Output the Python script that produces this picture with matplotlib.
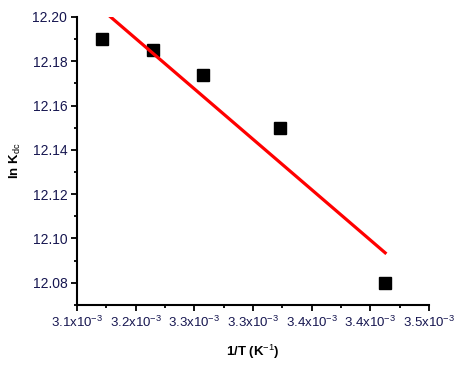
import numpy as np
import matplotlib
matplotlib.use("Agg")
import matplotlib.pyplot as plt
from matplotlib.ticker import FuncFormatter, FixedLocator

plt.rcParams['font.family'] = ['Liberation Sans', 'DejaVu Sans']
plt.rcParams['mathtext.fontset'] = 'custom'
plt.rcParams['mathtext.rm'] = 'Liberation Sans'
plt.rcParams['mathtext.bf'] = 'Liberation Sans:bold'

# data
invT = np.array([3.1652, 3.2182, 3.2688, 3.3470, 3.4550]) * 1e-3
lnK = np.array([12.190, 12.185, 12.174, 12.150, 12.080])

xticks = [3.14e-3, 3.20e-3, 3.26e-3, 3.32e-3, 3.38e-3, 3.44e-3, 3.50e-3]
yticks = [12.08, 12.10, 12.12, 12.14, 12.16, 12.18, 12.20]

tickcol = '#161650'

fig = plt.figure(figsize=(4.61, 3.67), dpi=100)
ax = fig.add_axes([0.167, 0.169, 0.764, 0.785])

ax.plot(invT, lnK, 's', color='black', ms=8.5, zorder=2)

# linear fit
p = np.polyfit(invT, lnK, 1)
xf = np.linspace(invT.min(), invT.max(), 50)
ax.plot(xf, np.polyval(p, xf), '-', color='red', lw=2.3, zorder=3)

ax.set_xlim(3.14e-3, 3.50e-3)
ax.set_ylim(12.07, 12.20)
ax.set_xticks(xticks)
ax.set_yticks(yticks)
xminor = [(a + b) / 2 for a, b in zip(xticks[:-1], xticks[1:])]
yminor = [12.07] + [t + 0.01 for t in yticks[:-1]]
ax.xaxis.set_minor_locator(FixedLocator(xminor))
ax.yaxis.set_minor_locator(FixedLocator(yminor))
ax.xaxis.set_major_formatter(FuncFormatter(lambda v, pos: '%.1fx10$^{-3}$' % (v * 1e3)))
ax.yaxis.set_major_formatter(FuncFormatter(lambda v, pos: '%.2f' % v))

for s in ['top', 'right']:
    ax.spines[s].set_visible(False)
for s in ['left', 'bottom']:
    ax.spines[s].set_linewidth(1.5)

ax.tick_params(which='major', direction='out', length=4, width=1.3,
               labelcolor=tickcol, pad=3)
ax.tick_params(axis='x', labelsize=9.5)
ax.tick_params(axis='y', labelsize=10)
ax.tick_params(which='minor', direction='out', length=2.5, width=1.3)

ax.set_xlabel(r'1/T (K$^{-1}$)', fontsize=9.5, fontweight='bold', labelpad=9)
ax.set_ylabel(r'ln K$_{\mathrm{dc}}$', fontsize=9.5, fontweight='bold', labelpad=7)

plt.savefig('out.png', dpi=100)
